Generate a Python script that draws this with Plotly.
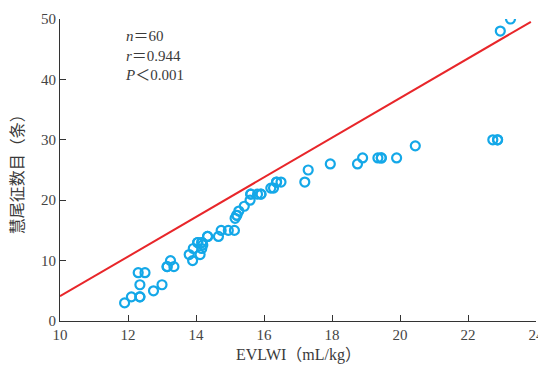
import plotly.graph_objects as go

# Data
evlwi = [11.9, 12.1, 12.35, 12.35, 12.3, 12.5, 12.75, 13.0, 13.15, 13.25, 13.35,
         13.9, 13.8, 13.92, 14.05, 14.17, 14.12, 14.17, 14.2, 14.34, 14.66, 14.74,
         14.95, 15.13, 15.15, 15.2, 15.26, 15.42, 15.59, 15.61, 15.81, 15.91, 16.2,
         16.28, 16.37, 16.5, 17.2, 17.3, 17.95, 18.75, 18.9, 19.35, 19.45, 19.9,
         20.45, 22.73, 22.87, 22.95, 23.25,
         12.35, 13.15, 14.05, 14.17, 14.34, 15.2, 15.61, 15.91, 16.37, 19.45, 22.87]
signs = [3, 4, 4, 6, 8, 8, 5, 6, 9, 10, 9,
         10, 11, 12, 13, 13, 11, 12, 12.6, 14, 14, 15,
         15, 15, 17, 17.5, 18.2, 19, 20, 21, 21, 21, 22,
         22, 23, 23, 23, 25, 26, 26, 27, 27, 27, 27,
         29, 30, 30, 48, 50,
         4, 9, 13, 13, 14, 17.5, 21, 21, 23, 27, 30]

fit_slope = 3.28
fit_intercept = -28.7
fit_x = [10, 23.85]
fit_y = [fit_slope * v + fit_intercept for v in fit_x]

x_ticks = [10, 12, 14, 16, 18, 20, 22, 24]
y_ticks = [0, 10, 20, 30, 40, 50]

serif = "Liberation Serif, Noto Sans CJK SC, serif"
text_color = "#3a3a3a"

fig = go.Figure()
fig.add_trace(go.Scatter(
    x=fit_x, y=fit_y, mode="lines",
    line=dict(color="#E8262A", width=2), showlegend=False, hoverinfo="skip"))
fig.add_trace(go.Scatter(
    x=evlwi, y=signs, mode="markers",
    marker=dict(symbol="circle-open", size=9, color="#14A8E8",
                line=dict(width=2.2, color="#14A8E8")),
    showlegend=False))

fig.add_annotation(
    xref="x", yref="y", x=11.85, y=48.8, xanchor="left", yanchor="top",
    text="<i>n</i>＝60<br><i>r</i>＝0.944<br><i>P</i>＜0.001",
    showarrow=False, align="left",
    font=dict(family=serif, size=15, color=text_color))

fig.add_annotation(
    xref="paper", yref="paper", x=0.5, y=-0.149, xanchor="center", yanchor="bottom",
    text="EVLWI（mL/kg）", showarrow=False,
    font=dict(family=serif, size=16, color=text_color))
fig.add_annotation(
    xref="paper", yref="paper", x=-0.09, y=0.5, xanchor="center", yanchor="middle",
    text="慧尾征数目（条）", showarrow=False, textangle=-90,
    font=dict(family=serif, size=16, color=text_color))

axis_common = dict(
    showline=True, linecolor="#333333", linewidth=1.2,
    ticks="inside", ticklen=6, tickwidth=1.2, tickcolor="#333333",
    showgrid=False, zeroline=False, mirror=False, automargin=False,
    ticklabeloverflow="allow",
    tickfont=dict(family=serif, size=15, color="#444444"))

fig.update_xaxes(range=[10, 24], tickvals=x_ticks, **axis_common)
fig.update_yaxes(range=[0, 50], tickvals=y_ticks, **axis_common)

fig.update_layout(
    width=538, height=358,
    margin=dict(l=52, r=10, t=11, b=45),
    plot_bgcolor="white", paper_bgcolor="white")

fig.write_html("out.html")
